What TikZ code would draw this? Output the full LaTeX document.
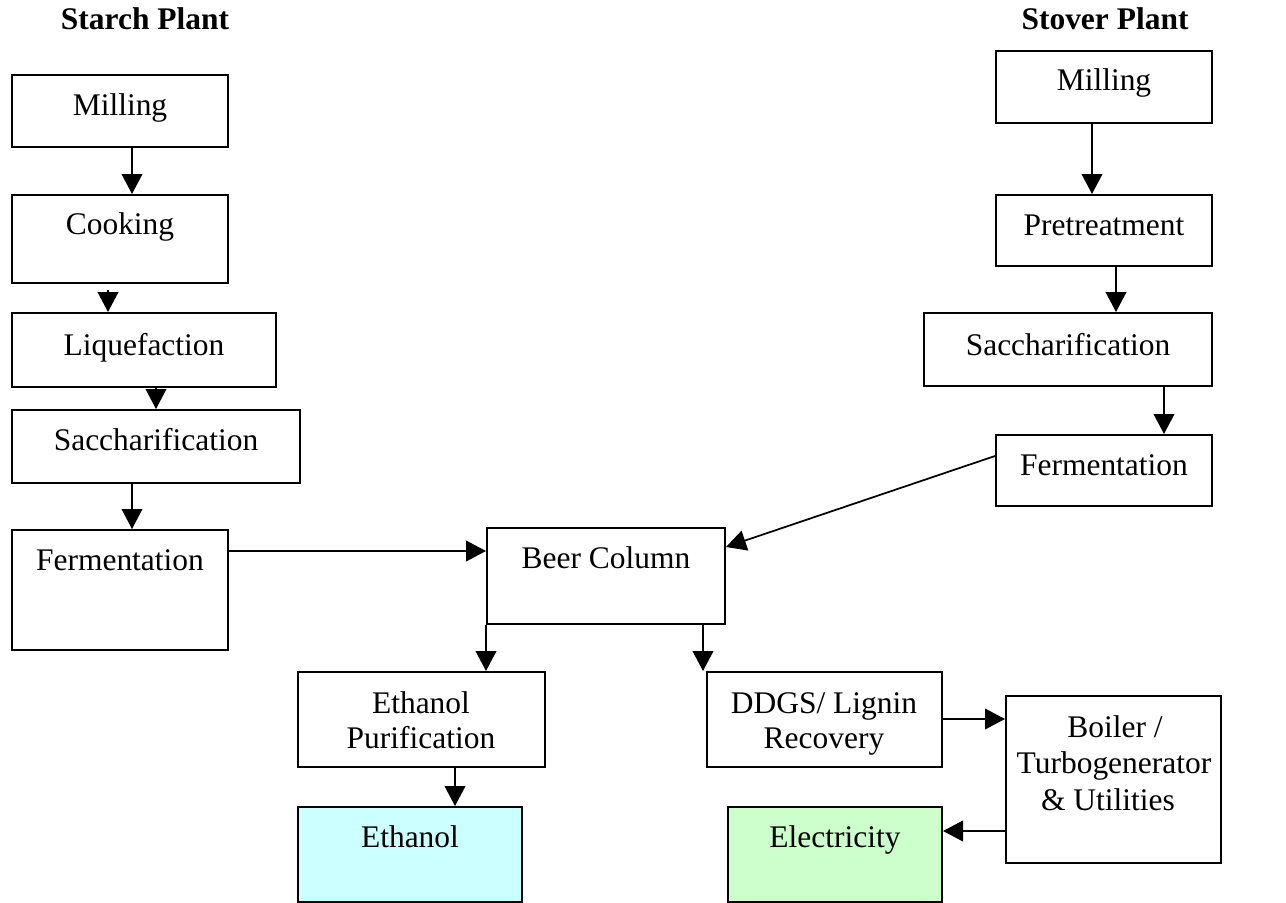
\documentclass[tikz,border=0pt]{standalone}
\usepackage{fontspec}
\setmainfont{Liberation Serif}
\usetikzlibrary{arrows.meta,fit}
\definecolor{ethfill}{HTML}{CCFFFF}
\definecolor{elecfill}{HTML}{CCFFCC}
\begin{document}
\begin{tikzpicture}[x=0.75pt,y=-0.75pt,
  box/.style={draw, line width=1.5pt, inner sep=0pt},
  txt/.style={anchor=base, inner sep=0pt, font=\fontsize{23.6}{28}\selectfont},
  ttl/.style={anchor=base, inner sep=0pt, font=\bfseries\fontsize{23.6}{28}\selectfont},
  arr/.style={-{Triangle[length=15pt,width=15.5pt]}, line width=1.3pt}]

% canvas
\fill[white] (0,0) rectangle (1286,903);
\useasboundingbox (0,0) rectangle (1286,903);

% titles
\node[ttl] (tS) at (145,29) {Starch Plant};
\node[ttl] (tV) at (1105,29) {Stover Plant};

% starch plant chain
\node[box, fit={(12,75) (228,147)}] (m1) {};
\node[txt] (m1t) at (120,115) {Milling};
\node[box, fit={(12,195) (228,283)}] (c1) {};
\node[txt] (c1t) at (120,234) {Cooking};
\node[box, fit={(12,313) (276,387)}] (l1) {};
\node[txt] (l1t) at (144,355) {Liquefaction};
\node[box, fit={(12,410) (300,483)}] (s1) {};
\node[txt] (s1t) at (156,450) {Saccharification};
\node[box, fit={(12,530) (228,650)}] (f1) {};
\node[txt] (f1t) at (120,570) {Fermentation};

% stover plant chain
\node[box, fit={(996,51) (1212,123)}] (m2) {};
\node[txt] (m2t) at (1104,90) {Milling};
\node[box, fit={(996,195) (1212,266)}] (p2) {};
\node[txt] (p2t) at (1104,235) {Pretreatment};
\node[box, fit={(924,313) (1212,386)}] (s2) {};
\node[txt] (s2t) at (1068,355) {Saccharification};
\node[box, fit={(996,435) (1212,506)}] (f2) {};
\node[txt] (f2t) at (1104,475) {Fermentation};

% shared downstream units
\node[box, fit={(487,528) (725,624)}] (bc) {};
\node[txt] (bct) at (606,568) {Beer Column};
\node[box, fit={(298,672) (545,767)}] (ep) {};
\node[txt] (ept1) at (421,713) {Ethanol};
\node[txt] (ept2) at (421,748) {Purification};
\node[box, fill=ethfill, fit={(298,807) (522,902)}] (eth) {};
\node[txt] (etht) at (410,847) {Ethanol};
\node[box, fit={(707,672) (942,767)}] (dd) {};
\node[txt] (ddt1) at (824,713) {DDGS/ Lignin};
\node[txt] (ddt2) at (824,748) {Recovery};
\node[box, fill=elecfill, fit={(728,807) (942,902)}] (el) {};
\node[txt] (elt) at (835,847) {Electricity};
\node[box, fit={(1006,696) (1221,863)}] (bo) {};
\node[txt] (bot1) at (1115,737) {Boiler /};
\node[txt] (bot2) at (1114,773) {Turbogenerator};
\node[txt] (bot3) at (1108,810) {\& Utilities};

% connectors
\draw[arr] (m1.south -| 132,0) -- (c1.north -| 132,0);
\coordinate (ck) at (108,290);
\draw[arr] (ck) -- (l1.north -| 108,0);
\draw[arr] (l1.south -| 156,0) -- (s1.north -| 156,0);
\draw[arr] (s1.south -| 132,0) -- (f1.north -| 132,0);
\draw[arr] (f1.east |- 0,551) -- (bc.west |- 0,551);

\draw[arr] (m2.south -| 1092,0) -- (p2.north -| 1092,0);
\draw[arr] (p2.south -| 1116,0) -- (s2.north -| 1116,0);
\draw[arr] (s2.south -| 1164,0) -- (f2.north -| 1164,0);
\draw[arr] (f2.west |- 0,456) -- (bc.east |- 0,547);

\draw[arr] (bc.south west) -- (ep.north -| bc.west);
\draw[arr] (bc.south -| 703,0) -- (dd.north -| 703,0);
\draw[arr] (ep.south -| 455,0) -- (eth.north -| 455,0);
\draw[arr] (dd.east |- 0,719) -- (bo.west |- 0,719);
\draw[arr] (bo.west |- 0,831) -- (el.east |- 0,831);
\end{tikzpicture}
\end{document}
